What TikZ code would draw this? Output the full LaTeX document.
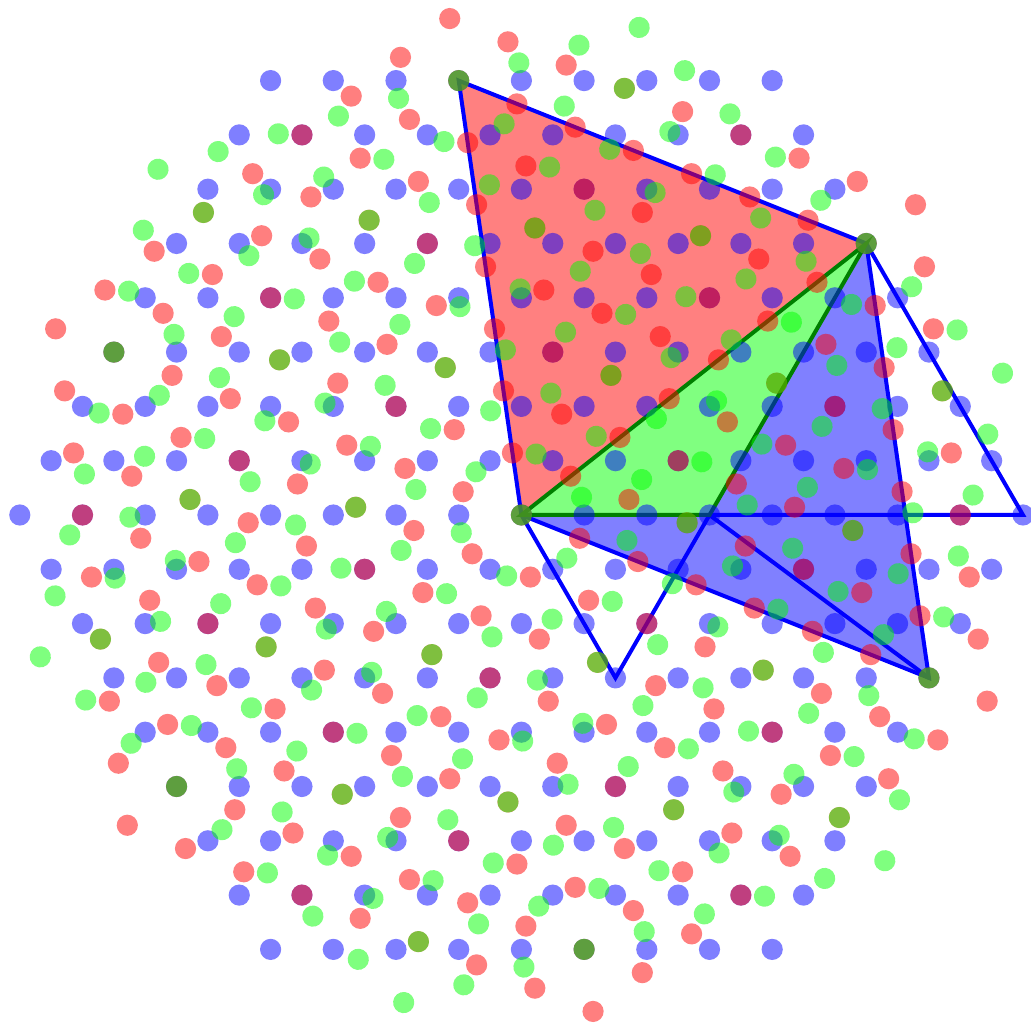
\documentclass[tikz,border=0pt]{standalone}
\begin{document}
\begin{tikzpicture}
\useasboundingbox (0,0) rectangle (1031pt,1026pt);
\tikzset{
  bl/.style={draw=blue, line width=4pt, line join=miter},
  gl/.style={draw=green!50!black, line width=4pt, line join=miter},
  dotblob/.style={fill opacity=0.5},
  lattice/.style={shift={(521.4pt,511pt)}, x={(62.7pt,0pt)}, y={(31.35pt,54.3pt)}}
}
\begin{scope}[lattice]
  \coordinate (C) at (0,0);
  \coordinate (V0) at (-5,8);
  \coordinate (V1) at (3,5);
  \coordinate (V2) at (8,-3);
  \coordinate (P) at (3,0);
  \coordinate (R) at (8,0);
  \coordinate (Q) at (3,-3);
  \fill[blue!50] (C) -- (V1) -- (V2) -- cycle;
  \fill[green!50] (C) -- (V1) -- (P) -- cycle;
  \fill[red!50] (C) -- (V0) -- (V1) -- cycle;
  \draw[bl] (C) -- (V0) -- (V1) -- (V2) -- cycle;
  \draw[bl] (C) -- (Q) -- (P) -- (R) -- (V1);
  \draw[bl] (P) -- (V2);
  \draw[gl] (C) -- (V1) -- (P) -- cycle;
\end{scope}
\foreach \th/\col in {0/blue, -21.7868/red, 16.4264/green}{
  \begin{scope}[lattice, rotate=\th]
    \foreach \m in {-8,...,8}{
      \foreach \n in {-8,...,8}{
        \pgfmathtruncatemacro\hd{max(abs(\m),abs(\n),abs(\m+\n))}
        \ifnum\hd<9 \fill[\col, dotblob] (\m,\n) circle (10.6pt); \fi
      }
    }
  \end{scope}
}
\end{tikzpicture}
\end{document}
